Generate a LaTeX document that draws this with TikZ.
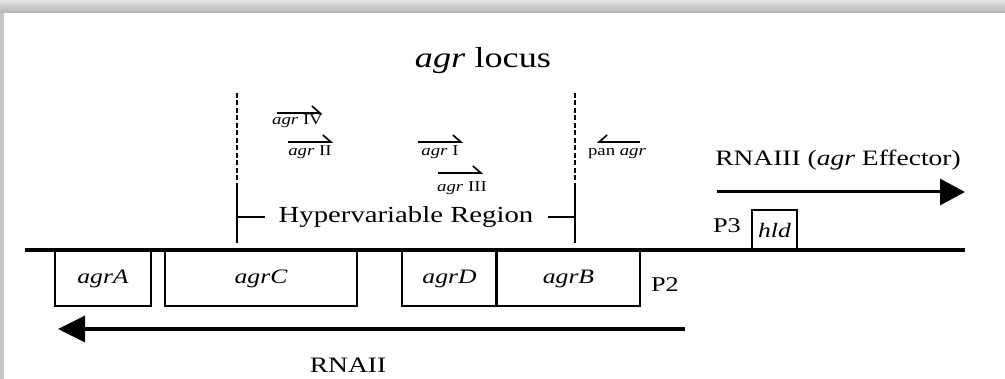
\documentclass[tikz,border=0pt]{standalone}
\usepackage{fontspec}
\setmainfont{Liberation Serif}[FakeStretch=1.25]
\usetikzlibrary{arrows.meta}
\begin{document}
\begin{tikzpicture}[x=1pt,y=-1pt,line width=1.2pt,
  every node/.style={inner sep=0pt},
  gene/.style={draw,line width=1.3pt,minimum height=55pt,font=\fontsize{20.5}{24}\selectfont\itshape},
  primer/.style={line width=1.6pt,-{Straight Barb[left,length=8pt,width=14pt]}},
  primerL/.style={line width=1.6pt,-{Straight Barb[right,length=8pt,width=14pt]}},
  plab/.style={anchor=base,font=\fontsize{15}{18}\selectfont},
  big/.style={anchor=base,font=\fontsize{22}{26}\selectfont},
  bound/.style={line width=1.1pt,dash pattern=on 5pt off 2.5pt}]
\useasboundingbox (0,0) rectangle (1005,379);
% frame
\shade[top color=gray!20,bottom color=gray!60] (0,0) rectangle (1005,13);
\fill[gray!45] (0,13) rectangle (4,379);
% coordinates
\coordinate (L) at (25,250);
\coordinate (R) at (965,250);
\coordinate (hvL top) at (237,93);
\coordinate (hvL mid) at (237,187);
\coordinate (hvL bot) at (237,243);
\coordinate (hvR top) at (575,93);
\coordinate (hvR mid) at (575,187);
\coordinate (hvR bot) at (575,243);
\coordinate (hvL tick) at (265,217);
\coordinate (hvR tick) at (548,217);
\coordinate (rna2 start) at (685,329);
\coordinate (rna2 end) at (58,329);
\coordinate (rna3 start) at (717,192);
\coordinate (rna3 end) at (965,192);
% genes
\node[gene,minimum width=96pt] (agrA) at (103,278.5) {agrA};
\node[gene,minimum width=192pt] (agrC) at (261,278.5) {agrC};
\node[gene,minimum width=95pt] (agrD) at (449.5,278.5) {agrD};
\node[gene,minimum width=143pt] (agrB) at (568.5,278.5) {agrB};
\node[gene,minimum width=45pt,minimum height=40pt] (hld) at (774.5,230) {hld};
\draw[line width=3pt] (agrB.north west) -- (agrB.south west);
\draw[line width=4.5pt] (L) -- (R);
% hypervariable region
\draw[bound] (hvL top) -- (hvL mid);
\draw (hvL mid) -- (hvL bot);
\draw[bound] (hvR top) -- (hvR mid);
\draw (hvR mid) -- (hvR bot);
\draw (hvL tick -| hvL mid) -- (hvL tick);
\draw (hvR tick) -- (hvR tick -| hvR mid);
\node[anchor=base,font=\fontsize{23}{27}\selectfont] (hv) at (406,223) {Hypervariable Region};
% primers
\coordinate (p4a) at (277,113); \coordinate (p4b) at (322,113);
\coordinate (p2a) at (288,142); \coordinate (p2b) at (333,142);
\coordinate (p1a) at (418,142); \coordinate (p1b) at (463,142);
\coordinate (p3a) at (438,173); \coordinate (p3b) at (483,173);
\coordinate (ppa) at (640,142); \coordinate (ppb) at (597,142);
\draw[primer] (p4a) -- (p4b);
\draw[primer] (p2a) -- (p2b);
\draw[primer] (p1a) -- (p1b);
\draw[primer] (p3a) -- (p3b);
\draw[primerL] (ppa) -- (ppb);
\node[plab] (l4) at (297.5,125) {\textit{agr} IV};
\node[plab] (l2) at (310,156) {\textit{agr} II};
\node[plab] (l1) at (440,156) {\textit{agr} I};
\node[plab] (l3) at (462,191.5) {\textit{agr} III};
\node[plab] (lp) at (617,156) {pan \textit{agr}};
% transcripts
\draw[line width=3.5pt,-{Triangle[length=27pt,width=26pt]}] (rna2 start) -- (rna2 end);
\draw[line width=3pt,-{Triangle[length=25pt,width=26pt]}] (rna3 start) -- (rna3 end);
\node[big] (rna2) at (348,373) {RNAII};
\node[big] (rna3) at (838,166) {RNAIII (\textit{agr} Effector)};
\node[big,font=\fontsize{21}{24}\selectfont] (p2) at (665,292) {P2};
\node[big,font=\fontsize{21}{24}\selectfont] (p3) at (727,233) {P3};
\node[anchor=base,font=\fontsize{29}{32}\selectfont] (locus) at (483,68) {\textit{agr} locus};
\end{tikzpicture}
\end{document}
